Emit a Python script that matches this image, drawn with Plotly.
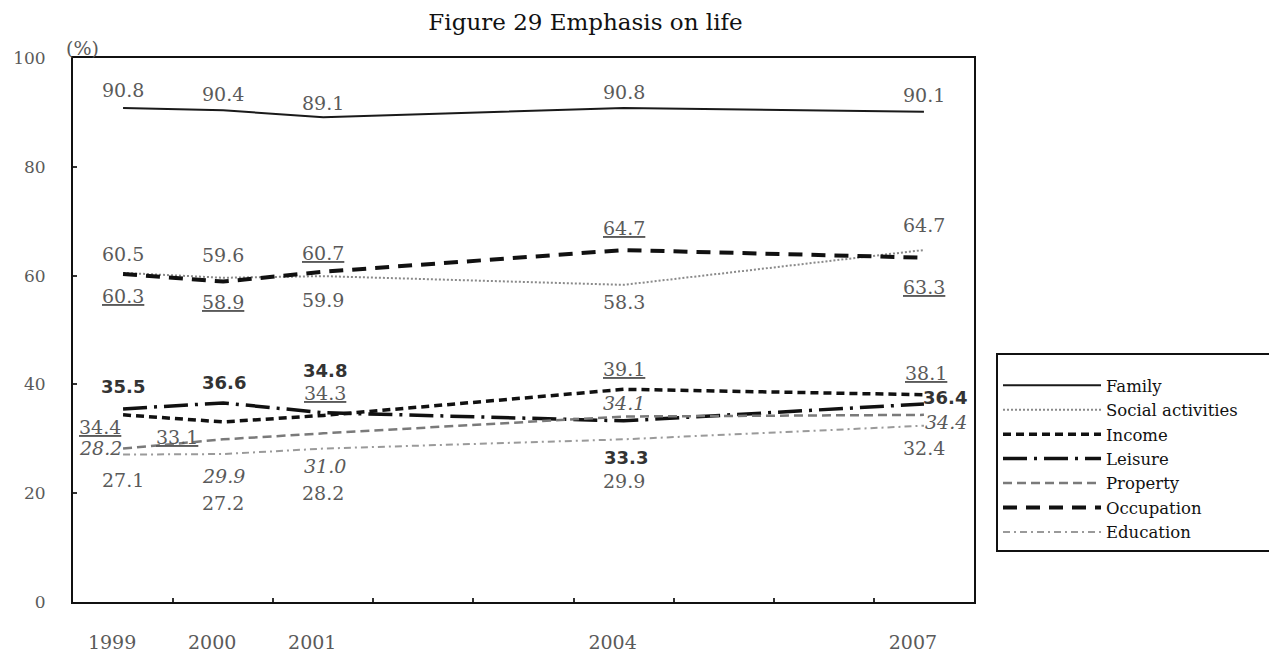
import plotly.graph_objects as go

# ---------------- data ----------------
years = [1999, 2000, 2001, 2004, 2007]
year_labels = ["1999", "2000", "2001", "2004", "2007"]
family = [90.8, 90.4, 89.1, 90.8, 90.1]
social_activities = [60.5, 59.6, 59.9, 58.3, 64.7]
income = [34.4, 33.1, 34.3, 39.1, 38.1]
leisure = [35.5, 36.6, 34.8, 33.3, 36.4]
property_ = [28.2, 29.9, 31.0, 34.1, 34.4]
occupation = [60.3, 58.9, 60.7, 64.7, 63.3]
education = [27.1, 27.2, 28.2, 29.9, 32.4]
y_ticks = [0, 20, 40, 60, 80, 100]

# ---------------- styles ----------------
SERIF = "DejaVu Serif"
SANS = "DejaVu Sans"

# the page body has an 8px default margin; the figure is sized to fit the window
OFF = 8
W, H = 1277 - OFF, 654 - OFF

series = [
    # name, values, color, width, dash, label style, label dx, label dy(px, down positive)
    ("Family", family, "#1a1a1a", 2, "solid", "plain",
     [0, 0, 0, 0, 0], [-18, -16, -14, -16, -17]),
    ("Social activities", social_activities, "#8a8a8a", 2, "2px,2px", "plain",
     [0, 0, 0, 0, 0], [-19, -23, 24, 17, -25]),
    ("Income", income, "#111111", 3.5, "8px,5px", "under",
     [-23, -46, 2, 0, 2], [12, 15, -22, -20, -22]),
    ("Leisure", leisure, "#111111", 3.5, "24px,7px,3px,7px", "bold",
     [0, 1, 2, 2, 21], [-22, -20, -42, 37, -6]),
    ("Property", property_, "#7a7a7a", 2.5, "9px,5px", "italic",
     [-23, 0, 2, 0, 22], [-1, 37, 33, -14, 7]),
    ("Occupation", occupation, "#111111", 4, "14px,9px", "under",
     [0, 0, 0, 0, 0], [22, 20, -19, -22, 29]),
    ("Education", education, "#9a9a9a", 2, "7px,4px,2px,4px", "plain",
     [0, 0, 0, 0, 0], [25, 49, 44, 42, 22]),
]

fig = go.Figure()
annotations = []
for name, vals, color, width, dash, lstyle, dxs, dys in series:
    fig.add_trace(go.Scatter(
        x=years, y=vals, mode="lines", name=name,
        line=dict(color=color, width=width, dash=dash),
        hoverinfo="x+y+name",
    ))
    for xv, yv, dx, dy in zip(years, vals, dxs, dys):
        txt = f"{yv:.1f}"
        fnt = dict(family=SERIF, size=19, color="#5a5a5a")
        if lstyle == "under":
            txt = f"<u>{txt}</u>"
        elif lstyle == "bold":
            txt = f"<b>{txt}</b>"
            fnt = dict(family=SANS, size=18, color="#333333")
        elif lstyle == "italic":
            txt = f"<i>{txt}</i>"
        annotations.append(dict(
            x=xv, y=yv, xref="x", yref="y", text=txt, showarrow=False,
            xanchor="center", yanchor="middle", xshift=dx, yshift=-dy,
            font=fnt,
        ))

annotations.append(dict(
    text="(%)", xref="paper", yref="paper", x=0.01, y=1.0, yshift=10,
    xanchor="center", yanchor="middle", showarrow=False,
    font=dict(family=SERIF, size=19, color="#5a5a5a"),
))

fig.update_layout(
    width=W, height=H,
    margin=dict(l=73 - OFF, r=1277 - 974, t=58 - OFF, b=654 - 602, autoexpand=False),
    paper_bgcolor="white", plot_bgcolor="white",
    title=dict(text="Figure 29 Emphasis on life", xref="container", yref="container",
               x=(585.5 - OFF) / W, y=1 - (22 - OFF) / H, xanchor="center", yanchor="middle",
               font=dict(family=SERIF, size=23, color="#111111")),
    xaxis=dict(
        range=[1998.5, 2007.5], tickmode="array", tickvals=years, ticktext=year_labels,
        ticks="", showgrid=False, zeroline=False, automargin=False,
        showline=True, linecolor="#111111", linewidth=2, mirror=True,
        tickfont=dict(family=SERIF, size=19, color="#5a5a5a"),
        ticklabelstandoff=22, ticklabelshift=-11,
        minor=dict(tickmode="array", tickvals=[1999.5, 2000.5, 2001.5, 2002.5, 2003.5,
                                                2004.5, 2005.5, 2006.5],
                   ticks="inside", ticklen=4, tickwidth=2, tickcolor="#333333",
                   showgrid=False),
    ),
    yaxis=dict(
        range=[0, 100], tickmode="array", tickvals=y_ticks,
        ticks="inside", ticklen=4, tickwidth=2, tickcolor="#333333",
        showgrid=False, zeroline=False, automargin=False,
        showline=True, linecolor="#111111", linewidth=2, mirror=True,
        tickfont=dict(family=SERIF, size=17, color="#5a5a5a"),
        ticklabelstandoff=22,
    ),
    legend=dict(
        xref="container", yref="container", x=(996 - OFF) / W, y=1 - (353 - OFF) / H,
        xanchor="left", yanchor="top",
        bordercolor="#111111", borderwidth=2, bgcolor="white",
        font=dict(family=SERIF, size=16.5, color="#111111"),
        itemwidth=98, traceorder="normal",
        title=dict(text="&nbsp;" * 84, font=dict(family=SERIF, size=10)),
    ),
    annotations=annotations,
    showlegend=True,
)

fig.write_html("out.html")
